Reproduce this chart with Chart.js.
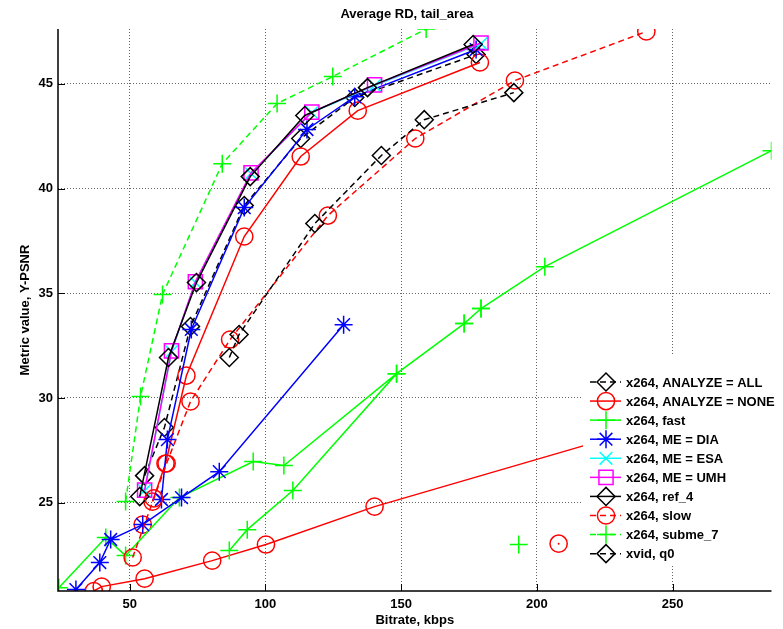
<!DOCTYPE html>
<html>
<head>
<meta charset="utf-8">
<script src="https://cdn.jsdelivr.net/npm/chart.js@4.4.1/dist/chart.umd.min.js"></script>
<style>
html, body { margin: 0; padding: 0; background: #fff; }
canvas { display: block; }
</style>
</head>
<body>
<canvas id="rd_canvas" width="783" height="629"></canvas>
<script>
// bitrate (kbps) / Y-PSNR per curve, a null starts a new run of the same curve
var analyzeAllX = [55.5, 62.8, 72.4, 92.2, 113.0, 132.9, 177.6];
var analyzeAllY = [26.29, 28.59, 33.41, 39.19, 42.39, 44.35, 46.40];

var analyzeNoneX = [58.4, 63.2, 70.9, 92.2, 113.0, 134.0, 179.0, null, 54.8, null, 36.8, 39.7, 55.5, 80.4, 100.2, 140.2, 230.0];
var analyzeNoneY = [25.05, 26.87, 31.07, 37.71, 41.53, 43.72, 46.02, null, 23.95, null, 20.78, 20.99, 21.37, 22.23, 23.00, 24.81, 28.20];

var fastX = [23.9, 41.2, 48.5, 68.3, 95.5, 106.8, 148.3, 173.2, 179.4, 202.9, 286.4, null, 86.7, 93.3, 110.1, 148.3, 173.2, 179.4];
var fastY = [20.94, 23.33, 22.47, 25.24, 26.96, 26.77, 31.16, 33.55, 34.27, 36.27, 41.81, null, 22.71, 23.71, 25.58, 31.16, 33.55, 34.27];

var meDiaX = [61.7, 63.9, 72.7, 92.2, 115.3, 132.9, 177.6, null, 30.2, 39.0, 43.0, 54.8, 69.1, 83.0, 128.8];
var meDiaY = [25.15, 28.01, 33.27, 39.09, 42.82, 44.39, 46.64, null, 20.85, 22.14, 23.24, 23.95, 25.24, 26.48, 33.50];

var meEsaX = [55.5, 65.4, 74.2, 94.7, 117.1, 140.2, 179.4];
var meEsaY = [25.57, 32.21, 35.52, 40.72, 43.63, 44.92, 46.92];

var meUmhX = [55.5, 65.4, 74.2, 94.7, 117.1, 140.2, 179.4];
var meUmhY = [25.60, 32.25, 35.55, 40.75, 43.65, 44.95, 46.95];

var ref4X = [53.7, 64.3, 74.6, 94.4, 114.5, 137.6, 176.5];
var ref4Y = [25.29, 31.93, 35.51, 40.57, 43.49, 44.82, 46.88];

var slowX = [51.1, 58.9, 63.6, 72.4, 87.0, 123.0, 155.2, 191.9, 240.3, null, 208.0];
var slowY = [22.38, 25.20, 26.87, 29.83, 32.79, 38.71, 42.39, 45.16, 47.50, null, 23.04];

var submeX = [48.5, 54.0, 62.1, 84.1, 104.3, 124.8, 159.2, null, 193.3];
var submeY = [25.05, 30.07, 34.94, 41.19, 44.06, 45.35, 47.62, null, 23.00];

var xvidX = [86.7, 90.3, 118.2, 142.7, 158.5, 191.5];
var xvidY = [31.93, 33.03, 38.33, 41.58, 43.29, 44.58];

// the small dot inside the lone red circle
var redDotX = [208.0];
var redDotY = [23.04];

var seriesNames = ['x264, ANALYZE = ALL', 'x264, ANALYZE = NONE', 'x264, fast', 'x264, ME = DIA', 'x264, ME = ESA',
	'x264, ME = UMH', 'x264, ref_4', 'x264, slow', 'x264, subme_7', 'xvid, q0'];
var xTicks = [50, 100, 150, 200, 250];
var yTicks = [25, 30, 35, 40, 45];

var FONT = "'Liberation Sans', Arial, Helvetica, sans-serif";
Chart.defaults.font.family = FONT;
Chart.defaults.color = '#000';

function toPoints(xs, ys) {
	var pts = [];
	for (var i = 0; i < xs.length; i++) {
		pts.push({x: xs[i], y: ys[i]});
	}
	return pts;
}

// colour, dash, marker, marker radius per curve (matlab style)
var styles = [
	{xs: analyzeAllX, ys: analyzeAllY, color: '#000000', dash: [6, 4], marker: 'rectRot', r: 9},
	{xs: analyzeNoneX, ys: analyzeNoneY, color: '#ff0000', dash: [], marker: 'circle', r: 8.6},
	{xs: fastX, ys: fastY, color: '#00ff00', dash: [], marker: 'cross', r: 9},
	{xs: meDiaX, ys: meDiaY, color: '#0000ff', dash: [], marker: 'star', r: 9},
	{xs: meEsaX, ys: meEsaY, color: '#00ffff', dash: [], marker: 'crossRot', r: 9},
	{xs: meUmhX, ys: meUmhY, color: '#ff00ff', dash: [], marker: 'rect', r: 10},
	{xs: ref4X, ys: ref4Y, color: '#000000', dash: [], marker: 'rectRot', r: 9},
	{xs: slowX, ys: slowY, color: '#ff0000', dash: [6, 4], marker: 'circle', r: 8.6},
	{xs: submeX, ys: submeY, color: '#00ff00', dash: [6, 4], marker: 'cross', r: 9},
	{xs: xvidX, ys: xvidY, color: '#000000', dash: [6, 4], marker: 'rectRot', r: 9}
];

var datasets = [];
for (var i = 0; i < styles.length; i++) {
	var s = styles[i];
	datasets.push({
		label: seriesNames[i],
		data: toPoints(s.xs, s.ys),
		showLine: true,
		spanGaps: false,
		tension: 0,
		borderColor: s.color,
		borderWidth: 1.5,
		borderDash: s.dash,
		pointStyle: s.marker,
		pointRadius: s.r,
		pointHoverRadius: s.r,
		pointBorderColor: s.color,
		pointBackgroundColor: 'rgba(0,0,0,0)',
		pointBorderWidth: 1.5,
		clip: 0,
		order: styles.length - i + 1
	});
}
datasets.push({
	label: '',
	data: toPoints(redDotX, redDotY),
	showLine: false,
	pointStyle: 'circle',
	pointRadius: 1,
	pointBorderWidth: 0,
	pointBackgroundColor: '#ff0000',
	clip: 0,
	order: 0
});
var legendCount = seriesNames.length;

function drawMarker(ctx, style, x, y, r) {
	var d = r * Math.SQRT1_2;
	ctx.beginPath();
	if (style == 'circle') {
		ctx.arc(x, y, r, 0, Math.PI * 2);
	} else if (style == 'rectRot') {
		ctx.moveTo(x - r, y); ctx.lineTo(x, y - r); ctx.lineTo(x + r, y); ctx.lineTo(x, y + r); ctx.closePath();
	} else if (style == 'rect') {
		ctx.rect(x - d, y - d, 2 * d, 2 * d);
	} else {
		if (style == 'cross' || style == 'star') {
			ctx.moveTo(x - r, y); ctx.lineTo(x + r, y);
			ctx.moveTo(x, y - r); ctx.lineTo(x, y + r);
		}
		if (style == 'crossRot' || style == 'star') {
			ctx.moveTo(x - d, y - d); ctx.lineTo(x + d, y + d);
			ctx.moveTo(x - d, y + d); ctx.lineTo(x + d, y - d);
		}
	}
	ctx.stroke();
}

var framePlugin = {
	id: 'frame',
	afterDatasetsDraw: function(chart) {
		var ctx = chart.ctx, a = chart.chartArea;
		var xs = chart.scales.x, ys = chart.scales.y;
		ctx.save();
		ctx.strokeStyle = '#000';
		ctx.lineWidth = 1.5;
		ctx.setLineDash([]);
		ctx.beginPath();
		ctx.moveTo(a.left, a.top);
		ctx.lineTo(a.left, a.bottom);
		ctx.lineTo(a.right, a.bottom);
		ctx.stroke();
		ctx.lineWidth = 1;
		ctx.beginPath();
		xTicks.forEach(function(v) {
			var px = Math.round(xs.getPixelForValue(v)) + 0.5;
			ctx.moveTo(px, a.bottom); ctx.lineTo(px, a.bottom - 7);
		});
		yTicks.forEach(function(v) {
			var py = Math.round(ys.getPixelForValue(v)) + 0.5;
			ctx.moveTo(a.left, py); ctx.lineTo(a.left + 7, py);
		});
		ctx.stroke();
		ctx.restore();
	},
	afterDraw: function(chart) {
		var ctx = chart.ctx;
		ctx.save();
		// title
		ctx.fillStyle = '#000';
		ctx.font = 'bold 13px ' + FONT;
		ctx.textAlign = 'center';
		ctx.textBaseline = 'middle';
		ctx.fillText('Average RD, tail_area', 407, 14);

		// legend box inside the axes, bottom right
		ctx.fillStyle = '#fff';
		ctx.fillRect(583, 354, 200, 210);
		ctx.textAlign = 'left';
		var dsList = chart.data.datasets;
		for (var i = 0; i < legendCount; i++) {
			var ds = dsList[i];
			var cy = 382 + i * 19.07;
			ctx.strokeStyle = ds.borderColor;
			ctx.lineWidth = 1.5;
			ctx.setLineDash(ds.borderDash);
			ctx.beginPath();
			ctx.moveTo(590, cy); ctx.lineTo(621, cy);
			ctx.stroke();
			ctx.setLineDash([]);
			drawMarker(ctx, ds.pointStyle, 606, cy, ds.pointRadius);
			ctx.fillStyle = '#000';
			ctx.fillText(ds.label, 626, cy + 1);
		}
		ctx.restore();
	}
};

var tickFont = {family: FONT, size: 13, weight: 'bold'};

var rdChart = new Chart(document.getElementById('rd_canvas').getContext('2d'), {
	type: 'scatter',
	data: {datasets: datasets},
	options: {
		responsive: false,
		animation: false,
		events: [],
		layout: {padding: {left: 0, right: 8, top: 29, bottom: 0}},
		plugins: {
			legend: {display: false},
			tooltip: {enabled: false},
			title: {display: false}
		},
		scales: {
			x: {
				type: 'linear',
				min: 23.6,
				max: 286.4,
				afterFit: function(scale) { scale.height = 38; },
				ticks: {stepSize: 50, includeBounds: false, padding: 6, maxRotation: 0, color: '#000', font: tickFont},
				grid: {color: 'rgba(0,0,0,0.6)', lineWidth: 1, drawTicks: false},
				border: {display: false, dash: [1, 2]},
				title: {display: true, text: 'Bitrate, kbps', color: '#000', font: tickFont, padding: {top: 0, bottom: 1}}
			},
			y: {
				type: 'linear',
				min: 20.78,
				max: 47.62,
				afterFit: function(scale) { scale.width = 58; },
				ticks: {stepSize: 5, includeBounds: false, padding: 5, color: '#000', font: tickFont},
				grid: {color: 'rgba(0,0,0,0.6)', lineWidth: 1, drawTicks: false},
				border: {display: false, dash: [1, 2]},
				title: {display: true, text: 'Metric value, Y-PSNR', color: '#000', font: tickFont, padding: {top: 18, bottom: 0}}
			}
		}
	},
	plugins: [framePlugin]
});
</script>
</body>
</html>
